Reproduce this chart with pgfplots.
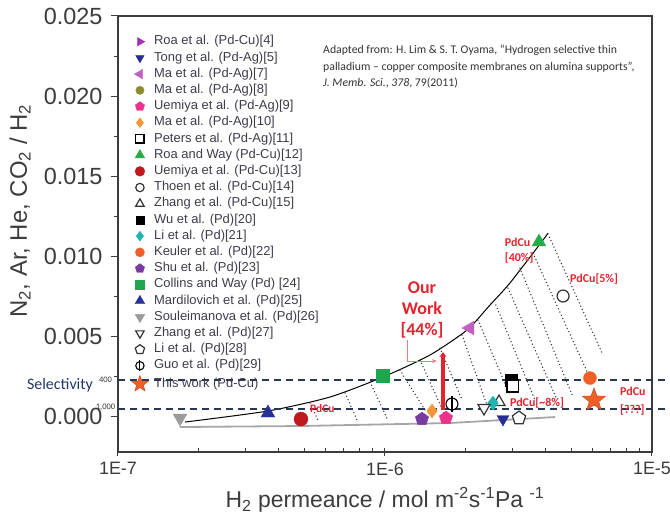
\documentclass[border=0pt]{standalone}
\usepackage{pgfplots}
\pgfplotsset{compat=1.18}
\usepackage{fontspec}
\setmainfont{Liberation Sans}
\newfontfamily\calfont{Carlito}
\usetikzlibrary{arrows.meta}
\definecolor{roa4}{RGB}{160,50,180}
\definecolor{tong5}{RGB}{40,45,150}
\definecolor{ma7}{RGB}{195,95,195}
\definecolor{ma8}{RGB}{140,140,50}
\definecolor{uem9}{RGB}{235,50,140}
\definecolor{ma10}{RGB}{245,150,60}
\definecolor{rw12}{RGB}{40,170,75}
\definecolor{uem13}{RGB}{190,25,30}
\definecolor{li21}{RGB}{30,180,175}
\definecolor{keu22}{RGB}{240,95,40}
\definecolor{shu23}{RGB}{120,60,160}
\definecolor{col24}{RGB}{30,165,80}
\definecolor{mar25}{RGB}{40,50,150}
\definecolor{sou26}{RGB}{155,155,155}
\definecolor{annred}{RGB}{230,35,45}
\definecolor{axgray}{RGB}{60,60,60}
\definecolor{legtext}{RGB}{60,60,75}
\definecolor{dashblue}{RGB}{40,55,85}
\definecolor{selblue}{RGB}{31,56,100}
\pgfdeclareplotmark{phi}{%
  \pgfpathcircle{\pgfpointorigin}{\pgfplotmarksize}%
  \pgfusepathqfillstroke
  \pgfpathmoveto{\pgfqpoint{0pt}{-1.3\pgfplotmarksize}}%
  \pgfpathlineto{\pgfqpoint{0pt}{1.3\pgfplotmarksize}}%
  \pgfusepathqstroke}
\pgfdeclareplotmark{fstar}{%
  \pgfpathmoveto{\pgfpointpolar{90}{\pgfplotmarksize}}%
  \pgfpathlineto{\pgfpointpolar{126}{0.42\pgfplotmarksize}}%
  \pgfpathlineto{\pgfpointpolar{162}{\pgfplotmarksize}}%
  \pgfpathlineto{\pgfpointpolar{198}{0.42\pgfplotmarksize}}%
  \pgfpathlineto{\pgfpointpolar{234}{\pgfplotmarksize}}%
  \pgfpathlineto{\pgfpointpolar{270}{0.42\pgfplotmarksize}}%
  \pgfpathlineto{\pgfpointpolar{306}{\pgfplotmarksize}}%
  \pgfpathlineto{\pgfpointpolar{342}{0.42\pgfplotmarksize}}%
  \pgfpathlineto{\pgfpointpolar{18}{\pgfplotmarksize}}%
  \pgfpathlineto{\pgfpointpolar{54}{0.42\pgfplotmarksize}}%
  \pgfpathclose
  \pgfusepathqfillstroke}
\begin{document}
\begin{tikzpicture}
\useasboundingbox (0,0) rectangle (670bp,525bp);
\begin{axis}[
  at={(118bp,73bp)}, anchor=south west,
  scale only axis, width=534bp, height=436bp,
  xmode=log, xmin=1e-7, xmax=1e-5,
  ymin=-0.0022, ymax=0.025,
  xtick={1e-7,1e-6,1e-5}, xticklabels={1E-7,1E-6,1E-5},
  ytick={0,0.005,0.01,0.015,0.02,0.025},
  minor ytick={0.0025,0.0075,0.0125,0.0175,0.0225},
  scaled y ticks=false,
  yticklabel style={/pgf/number format/fixed,/pgf/number format/fixed zerofill,/pgf/number format/precision=3,/pgf/number format/assume math mode=true, font=\fontsize{23.5}{26}\selectfont, xshift=-5bp},
  xticklabel style={font=\fontsize{18}{21}\selectfont},
  xtick pos=left, ytick pos=left,
  tick align=outside,
  major tick length=7bp, minor tick length=4bp,
  major x tick style={yshift=3.5bp},
  minor x tick style={yshift=4bp},
  tick style={axgray, line width=1bp},
  axis line style={axgray, line width=1.2bp},
  tick label style={text=axgray},
  label style={text=axgray},
  xlabel={H\textsubscript{2} permeance / mol m\textsuperscript{-2}s\textsuperscript{-1}Pa \textsuperscript{-1}},
  ylabel={N\textsubscript{2}, Ar, He, CO\textsubscript{2} / H\textsubscript{2}},
  xlabel style={at={(rel axis cs:0.5,-0.11)}, anchor=center, font=\fontsize{23}{26}\selectfont},
  ylabel style={at={(rel axis cs:-0.1835,0.553)}, anchor=center, font=\fontsize{24}{27}\selectfont},
  clip=false,
  legend cell align=left,
  legend image code/.code={\path (0bp,0bp) (20bp,0bp); \draw[mark repeat=2,mark phase=2,#1] plot coordinates {(0bp,0bp)(6bp,0bp)(12bp,0bp)};},
  legend image post style={every mark/.append style={scale=0.7}},
  legend style={at={(0.0262,0.9553)}, anchor=north west, draw=none, fill=none,
    inner sep=0pt, outer sep=0pt, font=\fontsize{13}{15}\selectfont, text=legtext,
    row sep=3.7bp, nodes={inner sep=0pt, text height=9.5bp, text depth=3bp}},
]
% boundary curves
\addplot[forget plot, black, line width=1bp, smooth, tension=0.4] coordinates {
  (1.782e-7,-0.000331) (3.646e-7,0.000356) (6.223e-7,0.001229) (9.83e-7,0.002477)
  (1.474e-6,0.003849) (2.028e-6,0.005408) (2.473e-6,0.006968) (2.937e-6,0.00834)
  (3.907e-6,0.01102) (4.079e-6,0.01146)};
\addplot[forget plot, gray!70, line width=1.8bp] coordinates {
  (1.707e-7,-0.000642) (4.80e-7,-0.00058) (1.751e-6,-0.000393) (4.334e-6,-0.000019)};
% tie lines
\pgfplotsset{tie/.style={forget plot, gray!40!black, line width=1.5bp, line cap=round, dash pattern=on 0pt off 3.6bp}}
\addplot[tie] coordinates {(4.079e-6,0.0114) (6.554e-6,0.003849)};
\addplot[tie] coordinates {(3.584e-6,0.01021) (5.859e-6,0.002414)};
\addplot[tie] coordinates {(3.203e-6,0.009276) (5.059e-6,0.001229)};
\addplot[tie] coordinates {(2.889e-6,0.008029) (4.409e-6,0.001042)};
\addplot[tie] coordinates {(2.604e-6,0.006968) (3.646e-6,0.001042)};
\addplot[tie] coordinates {(2.230e-6,0.006032) (2.937e-6,0.001354)};
\addplot[tie] coordinates {(1.943e-6,0.005096) (2.410e-6,0.00073)};
\addplot[tie] coordinates {(1.607e-6,0.004286) (1.943e-6,0.001042)};
\addplot[tie] coordinates {(1.353e-6,0.003537) (1.677e-6,0.000106)};
\addplot[tie] coordinates {(1.138e-6,0.002913) (1.412e-6,0.000418)};
\addplot[tie] coordinates {(8.79e-7,0.002165) (1.017e-6,-0.000081)};
\addplot[tie] coordinates {(7.09e-7,0.001478) (7.86e-7,-0.000206)};
\addplot[tie] coordinates {(5.24e-7,0.000855) (5.61e-7,-0.000206)};
% selectivity lines
\addplot[forget plot, dashblue, line width=1.6bp, dash pattern=on 7bp off 5bp] coordinates {(1e-7,0.002289) (1.168e-5,0.002289)};
\addplot[forget plot, dashblue, line width=1.6bp, dash pattern=on 7bp off 5bp] coordinates {(1e-7,0.00048) (1.168e-5,0.00048)};
% red annotations
\addplot[forget plot, annred!60, line width=0.9bp, -{Stealth[length=5bp,width=4bp]}] coordinates {(1.209e-6,0.004785) (1.209e-6,0.003475) (1.566e-6,0.003475)};
% Wu (drawn first, below Peters)
\addplot[forget plot, only marks, color=black, mark=square*, mark size=6] coordinates {(2.965e-6,0.002289)};
% legend-ordered series
\addlegendimage{only marks, color=roa4, mark=triangle*, mark size=7, mark options={rotate=-90}}
\addlegendentry{Roa et al. (Pd-Cu)[4]}
\addplot[only marks, color=tong5, mark=triangle*, mark size=7, mark options={rotate=180}] coordinates {(2.767e-6,-0.000143)};
\addlegendentry{Tong et al. (Pd-Ag)[5]}
\addplot[only marks, color=ma7, mark=triangle*, mark size=8, mark options={rotate=90}] coordinates {(2.082e-6,0.005533)};
\addlegendentry{Ma et al. (Pd-Ag)[7]}
\addlegendimage{only marks, color=ma8, mark=*, mark size=6}
\addlegendentry{Ma et al. (Pd-Ag)[8]}
\addplot[only marks, color=uem9, mark=pentagon*, mark size=7] coordinates {(1.692e-6,-0.000081)};
\addlegendentry{Uemiya et al. (Pd-Ag)[9]}
\addplot[only marks, color=ma10, mark=diamond*, mark size=7] coordinates {(1.50e-6,0.000356)};
\addlegendentry{Ma et al. (Pd-Ag)[10]}
\addplot[only marks, mark=square*, mark size=6, mark options={draw=black, fill=white, line width=1.3bp}] coordinates {(3.013e-6,0.001915)};
\addlegendentry{Peters et al. (Pd-Ag)[11]}
\addplot[only marks, color=rw12, mark=triangle*, mark size=8] coordinates {(3.775e-6,0.0109)};
\addlegendentry{Roa and Way (Pd-Cu)[12]}
\addplot[only marks, color=uem13, mark=*, mark size=7] coordinates {(4.846e-7,-0.000143)};
\addlegendentry{Uemiya et al. (Pd-Cu)[13]}
\addplot[only marks, mark=*, mark size=6, mark options={draw=gray!40!black, fill=white, line width=1.2bp}] coordinates {(4.645e-6,0.00753)};
\addlegendentry{Thoen et al. (Pd-Cu)[14]}
\addplot[only marks, mark=triangle*, mark size=7, mark options={draw=gray!40!black, fill=white, line width=1.2bp}] coordinates {(2.673e-6,0.000917)};
\addlegendentry{Zhang et al. (Pd-Cu)[15]}
\addlegendimage{only marks, color=black, mark=square*, mark size=6}
\addlegendentry{Wu et al. (Pd)[20]}
\addplot[only marks, color=li21, mark=diamond*, mark size=7] coordinates {(2.538e-6,0.000855)};
\addlegendentry{Li et al. (Pd)[21]}
\addplot[only marks, color=keu22, mark=*, mark size=6.5] coordinates {(5.859e-6,0.002414)};
\addlegendentry{Keuler et al. (Pd)[22]}
\addplot[only marks, color=shu23, mark=pentagon*, mark size=7] coordinates {(1.376e-6,-0.000143)};
\addlegendentry{Shu et al. (Pd)[23]}
\addplot[only marks, color=col24, mark=square*, mark size=6.5] coordinates {(9.83e-7,0.002539)};
\addlegendentry{Collins and Way (Pd) [24]}
\addplot[only marks, color=mar25, mark=triangle*, mark size=8] coordinates {(3.646e-7,0.000231)};
\addlegendentry{Mardilovich et al. (Pd)[25]}
\addplot[only marks, color=sou26, mark=triangle*, mark size=8, mark options={rotate=180}] coordinates {(1.707e-7,-0.000081)};
\addlegendentry{Souleimanova et al. (Pd)[26]}
\addplot[only marks, mark=triangle*, mark size=7, mark options={rotate=180, draw=gray!40!black, fill=white, line width=1.2bp}] coordinates {(2.349e-6,0.000543)};
\addlegendentry{Zhang et al. (Pd)[27]}
\addplot[only marks, mark=pentagon*, mark size=7, mark options={draw=gray!40!black, fill=white, line width=1.2bp}] coordinates {(3.177e-6,-0.000081)};
\addlegendentry{Li et al. (Pd)[28]}
\addplot[only marks, mark=phi, mark size=6, mark options={draw=black, fill=white, line width=1.1bp}] coordinates {(1.782e-6,0.000792)};
\addlegendentry{Guo et al. (Pd)[29]}
\addplot[only marks, color=keu22, mark=fstar, mark size=12, mark options={draw=keu22!85!black, fill=keu22, line width=0.6bp}] coordinates {(6.066e-6,0.001042)};
\addlegendentry{This work (Pd-Cu)}
% red vertical bar
\addplot[forget plot, annred, line width=3.5bp, -{Stealth[length=5bp,width=7bp]}] coordinates {(1.649e-6,0.000418) (1.649e-6,0.004036)};
% texts
\node[anchor=center, align=center, font=\calfont\bfseries\fontsize{18}{21}\selectfont, text=annred] at (axis cs:1.376e-6,0.006642) {Our\\Work\\{[44\%]}};
\node[anchor=west, font=\calfont\bfseries\fontsize{11.5}{13}\selectfont, text=annred, inner sep=0pt] at (axis cs:5.24e-7,0.000543) {PdCu};
\node[anchor=west, align=left, font=\calfont\bfseries\fontsize{12}{15}\selectfont, text=annred, inner sep=0pt] at (axis cs:2.81e-6,0.01037) {PdCu\\{[40\%]}};
\node[anchor=west, font=\calfont\bfseries\fontsize{12}{15}\selectfont, text=annred, inner sep=0pt] at (axis cs:4.93e-6,0.00859) {PdCu[5\%]};
\node[anchor=west, font=\calfont\bfseries\fontsize{12}{15}\selectfont, text=annred, inner sep=0pt] at (axis cs:2.937e-6,0.000855) {PdCu[\textasciitilde8\%]};
\node[anchor=west, align=left, font=\calfont\bfseries\fontsize{12}{18}\selectfont, text=annred, inner sep=0pt] at (axis cs:7.59e-6,0.000948) {PdCu\\{[???]}};
\node[anchor=north west, align=left, font=\calfont\fontsize{11.8}{16.5}\selectfont, text=black!80, inner sep=0pt] at (rel axis cs:0.384,0.9335) {Adapted from: H. Lim \& S. T. Oyama, “Hydrogen selective thin\\palladium – copper composite membranes on alumina supports”,\\\textit{J. Memb. Sci.}, \textit{378}, 79(2011)};
\node[anchor=center, font=\calfont\fontsize{16}{18}\selectfont, text=selblue] at (rel axis cs:-0.1086,0.1537) {Selectivity};
\node[anchor=east, font=\calfont\fontsize{8.5}{10}\selectfont, text=black!80, inner sep=1pt] at (rel axis cs:-0.009,0.166) {400};
\node[anchor=east, font=\calfont\fontsize{8.5}{10}\selectfont, text=black!80, inner sep=1pt] at (rel axis cs:-0.003,0.103) {1,000};
\end{axis}
\end{tikzpicture}
\end{document}
